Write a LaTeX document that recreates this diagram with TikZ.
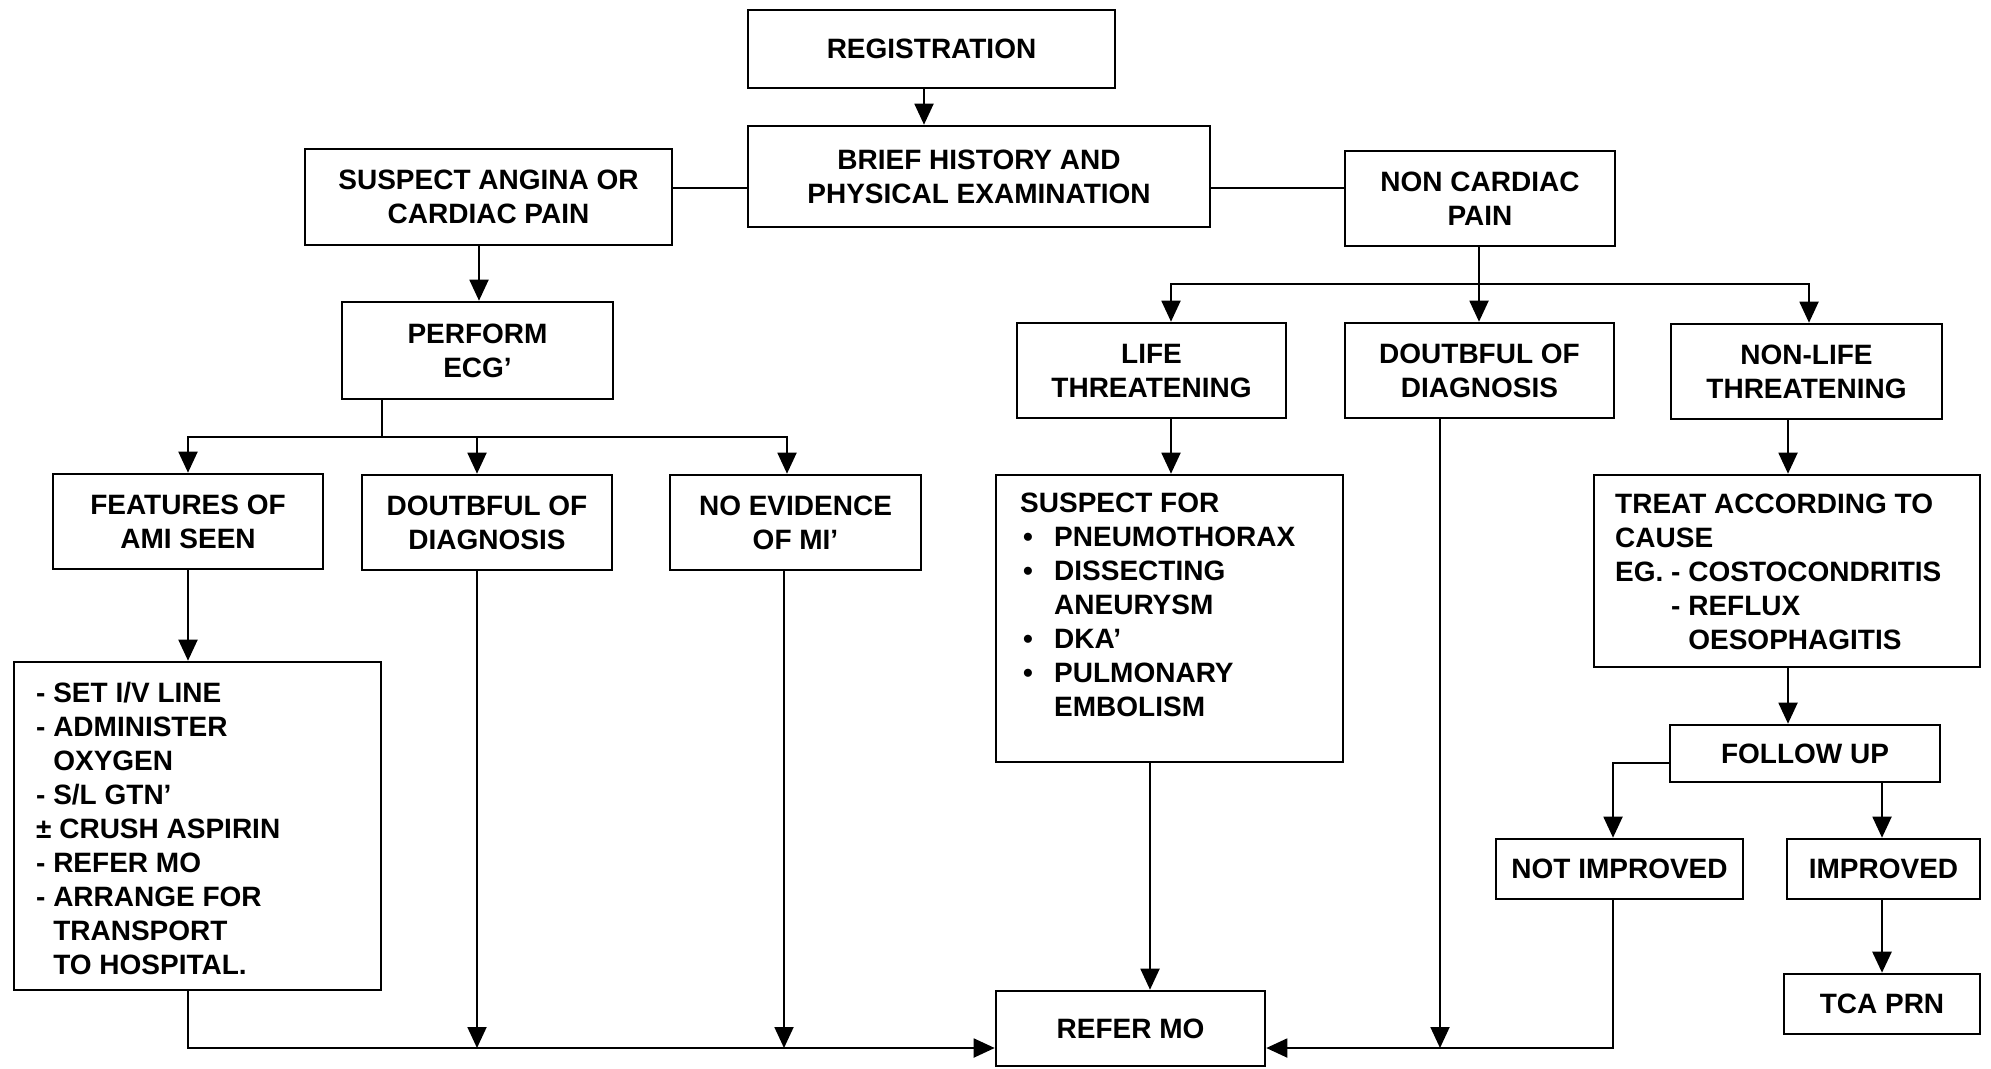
\documentclass[tikz,border=0pt]{standalone}
\usepackage{fontspec}
\setmainfont{Liberation Sans}
\usetikzlibrary{arrows.meta}
\newcommand\lbul{\makebox[34pt][l]{\hspace{3pt}\textbullet}}
\newcommand\lind{\hspace*{34pt}}
\begin{document}
\begin{tikzpicture}[x=1pt,y=-1pt,
  txt/.style={font=\bfseries\fontsize{28}{34}\selectfont},
  box/.style={txt, draw, line width=2.6pt, align=center, inner sep=0pt},
  listtext/.style={txt, align=left, inner sep=0pt, anchor=north west},
  conn/.style={line width=1.9pt},
  arr/.style={conn, -{Triangle[length=21pt,width=19pt]}}]
\useasboundingbox (0,0) rectangle (1991,1068);

% --- boxes ---
\node[box, minimum width=367, minimum height=78]  (reg)    at (931.5,49)    {REGISTRATION};
\node[box, minimum width=462, minimum height=101] (hist)   at (979,176.5)   {BRIEF HISTORY AND\\PHYSICAL EXAMINATION};
\node[box, minimum width=367, minimum height=96]  (angina) at (488.5,197)   {SUSPECT ANGINA OR\\CARDIAC PAIN};
\node[box, minimum width=270, minimum height=95]  (noncard) at (1480,198.5) {NON CARDIAC\\PAIN};
\node[box, minimum width=271, minimum height=97]  (ecg)    at (477.5,350.5) {PERFORM\\ECG'};
\node[box, minimum width=270, minimum height=95]  (ami)    at (188,521.5)   {FEATURES OF\\AMI SEEN};
\node[box, minimum width=250, minimum height=95]  (doubtL) at (487,522.5)   {DOUTBFUL OF\\DIAGNOSIS};
\node[box, minimum width=251, minimum height=95]  (noev)   at (795.5,522.5) {NO EVIDENCE\\OF MI'};
\node[box, minimum width=269, minimum height=95]  (life)   at (1151.5,370.5) {LIFE\\THREATENING};
\node[box, minimum width=269, minimum height=95]  (doubtR) at (1479.5,370.5) {DOUTBFUL OF\\DIAGNOSIS};
\node[box, minimum width=271, minimum height=95]  (nonlife) at (1806.5,371.5) {NON-LIFE\\THREATENING};
\node[box, minimum width=367, minimum height=328] (setbox) at (197.5,826)   {};
\node[box, minimum width=347, minimum height=287] (sfbox)  at (1169.5,618.5) {};
\node[box, minimum width=386, minimum height=192] (treat)  at (1787,571)    {};
\node[box, minimum width=270, minimum height=57]  (follow) at (1805,753.5)  {FOLLOW UP};
\node[box, minimum width=247, minimum height=60]  (notimp) at (1619.5,869)  {NOT IMPROVED};
\node[box, minimum width=193, minimum height=60]  (imp)    at (1883.5,869)  {IMPROVED};
\node[box, minimum width=196, minimum height=60]  (tca)    at (1882,1004)   {TCA PRN};
\node[box, minimum width=269, minimum height=75]  (refer)  at (1130.5,1028.5) {REFER MO};

% --- list texts ---
\node[listtext] (settext) at (36,682) {%
- SET I/V LINE\\
- ADMINISTER\\
\phantom{- }OXYGEN\\
- S/L GTN'\\
± CRUSH ASPIRIN\\
- REFER MO\\
- ARRANGE FOR\\
\phantom{- }TRANSPORT\\
\phantom{- }TO HOSPITAL.};
\node[listtext] (sftext) at (1020,493) {%
SUSPECT FOR\\
\lbul PNEUMOTHORAX\\
\lbul DISSECTING\\
\lind ANEURYSM\\
\lbul DKA'\\
\lbul PULMONARY\\
\lind EMBOLISM};
\node[listtext] (treattext) at (1615,494) {%
TREAT ACCORDING TO\\
CAUSE\\
EG. - COSTOCONDRITIS\\
\phantom{EG. }- REFLUX\\
\phantom{EG. - }OESOPHAGITIS};

% --- column and level helpers ---
\coordinate (regx) at (924,0);
\coordinate (hy)   at (0,188);
\coordinate (angx) at (479,0);
\coordinate (ecgbus) at (382,437);
\coordinate (amix) at (188,0);
\coordinate (dlx)  at (477,0);
\coordinate (nex)  at (787,0);
\coordinate (nex2) at (784,0);
\coordinate (ncbus) at (1479,284);
\coordinate (lifex) at (1171,0);
\coordinate (nlx)  at (1809,0);
\coordinate (trx)  at (1788,0);
\coordinate (fuy)  at (1613,763);
\coordinate (impx) at (1882,0);
\coordinate (sfx)  at (1150,0);
\coordinate (drx)  at (1440,0);
\coordinate (boty) at (0,1048);

% --- connectors ---
\draw[arr] (reg.south -| regx) -- (hist.north -| regx);
\draw[conn] (hist.west |- hy) -- (angina.east |- hy);
\draw[conn] (hist.east |- hy) -- (noncard.west |- hy);
\draw[arr] (angina.south -| angx) -- (ecg.north -| angx);

\draw[conn] (ecg.south -| ecgbus) -- (ecgbus);
\draw[arr] (ecgbus) -| (ami.north -| amix);
\draw[arr] (ecgbus) -| (noev.north -| nex);
\draw[arr] (ecgbus -| dlx) -- (doubtL.north -| dlx);

\draw[conn] (noncard.south -| ncbus) -- (ncbus);
\draw[arr] (ncbus) -| (life.north -| lifex);
\draw[arr] (ncbus) -| (nonlife.north -| nlx);
\draw[arr] (ncbus) -- (doubtR.north -| ncbus);

\draw[arr] (ami.south -| amix) -- (setbox.north -| amix);
\draw[arr] (life.south -| lifex) -- (sfbox.north -| lifex);
\draw[arr] (nonlife.south -| trx) -- (treat.north -| trx);
\draw[arr] (treat.south -| trx) -- (follow.north -| trx);
\draw[arr] (follow.west |- fuy) -| (notimp.north -| fuy);
\draw[arr] (follow.south -| impx) -- (imp.north -| impx);
\draw[arr, line width=2.6pt] (imp.south -| impx) -- (tca.north -| impx);

\draw[arr] (setbox.south -| amix) |- (refer.west |- boty);
\draw[arr] (doubtL.south -| dlx) -- (boty -| dlx);
\draw[arr] (noev.south -| nex2) -- (boty -| nex2);
\draw[arr] (sfbox.south -| sfx) -- (refer.north -| sfx);
\draw[arr] (doubtR.south -| drx) -- (boty -| drx);
\draw[arr] (notimp.south -| fuy) |- (refer.east |- boty);
\end{tikzpicture}
\end{document}
